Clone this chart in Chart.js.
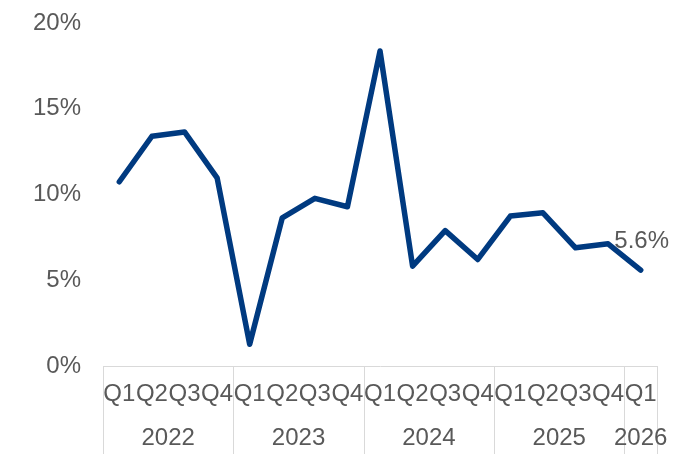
<!DOCTYPE html>
<html>
<head>
<meta charset="utf-8">
<script src="https://cdn.jsdelivr.net/npm/chart.js@4/dist/chart.umd.min.js"></script>
<style>
html,body{margin:0;padding:0;background:#fff;}
#wrap{width:674px;height:454px;}
</style>
</head>
<body>
<div id="wrap"><canvas id="c" width="674" height="454"></canvas></div>
<script>
const quarters = ['Q1','Q2','Q3','Q4','Q1','Q2','Q3','Q4','Q1','Q2','Q3','Q4','Q1','Q2','Q3','Q4','Q1'];
const years = ['2022','2022','2022','2022','2023','2023','2023','2023','2024','2024','2024','2024','2025','2025','2025','2025','2026'];
const growth = [10.75, 13.4, 13.65, 10.98, 1.28, 8.65, 9.78, 9.29, 18.37, 5.83, 7.9, 6.22, 8.75, 8.94, 6.9, 7.13, 5.6];
const yTicks = [0, 5, 10, 15, 20];
const lastLabel = '5.6%';

const textColor = '#595959';
const lineColor = '#003A80';
const gridColor = '#D9D9D9';
const fontFamily = '"Liberation Sans", Arial, sans-serif';

const groupPlugin = {
  id: 'groupAxis',
  afterDraw(chart) {
    const ctx = chart.ctx;
    const x = chart.scales.x;
    const area = chart.chartArea;
    const half = (x.getPixelForValue(1) - x.getPixelForValue(0)) / 2;
    const groups = [];
    years.forEach((y, i) => {
      const g = groups[groups.length - 1];
      if (g && g.label === y) g.end = i; else groups.push({label: y, start: i, end: i});
    });
    ctx.save();
    ctx.strokeStyle = gridColor;
    ctx.lineWidth = 1;
    const bottom = chart.height;
    const edges = groups.map(g => x.getPixelForValue(g.start) - half);
    edges.push(x.getPixelForValue(groups[groups.length - 1].end) + half);
    edges.forEach(px => {
      const xx = Math.round(px) + 0.5;
      ctx.beginPath();
      ctx.moveTo(xx, area.bottom);
      ctx.lineTo(xx, bottom);
      ctx.stroke();
    });
    ctx.fillStyle = textColor;
    ctx.font = '24px ' + fontFamily;
    ctx.textAlign = 'center';
    ctx.textBaseline = 'middle';
    groups.forEach(g => {
      const cx = (x.getPixelForValue(g.start) + x.getPixelForValue(g.end)) / 2;
      ctx.fillText(g.label, cx, area.bottom + 72);
    });
    const meta = chart.getDatasetMeta(0);
    const pt = meta.data[meta.data.length - 1];
    ctx.fillText(lastLabel, pt.x + 1, pt.y - 29);
    ctx.restore();
  }
};

new Chart(document.getElementById('c'), {
  type: 'line',
  data: {
    labels: quarters,
    datasets: [{
      data: growth,
      borderColor: lineColor,
      borderWidth: 5.5,
      pointRadius: 0,
      pointHoverRadius: 0,
      tension: 0,
      fill: false,
      borderCapStyle: 'round',
      borderJoinStyle: 'round'
    }]
  },
  options: {
    responsive: false,
    animation: false,
    devicePixelRatio: 1,
    layout: { padding: { left: 11, right: 17, top: 23, bottom: 31 } },
    plugins: { legend: { display: false }, tooltip: { enabled: false } },
    scales: {
      x: {
        type: 'category',
        offset: true,
        grid: { display: false, drawOnChartArea: false, drawTicks: false },
        border: { display: true, color: gridColor, width: 1 },
        ticks: {
          color: textColor,
          font: { family: fontFamily, size: 24 },
          padding: 14,
          autoSkip: false,
          maxRotation: 0,
          minRotation: 0
        }
      },
      y: {
        min: 0,
        max: 20,
        afterBuildTicks(scale) { scale.ticks = yTicks.map(v => ({ value: v })); },
        afterFit(scale) { scale.paddingTop = 0; },
        grid: { display: false, drawTicks: false },
        border: { display: false },
        ticks: {
          color: textColor,
          font: { family: fontFamily, size: 24 },
          padding: 22,
          callback: v => v + '%'
        }
      }
    }
  },
  plugins: [groupPlugin]
});
</script>
</body>
</html>
